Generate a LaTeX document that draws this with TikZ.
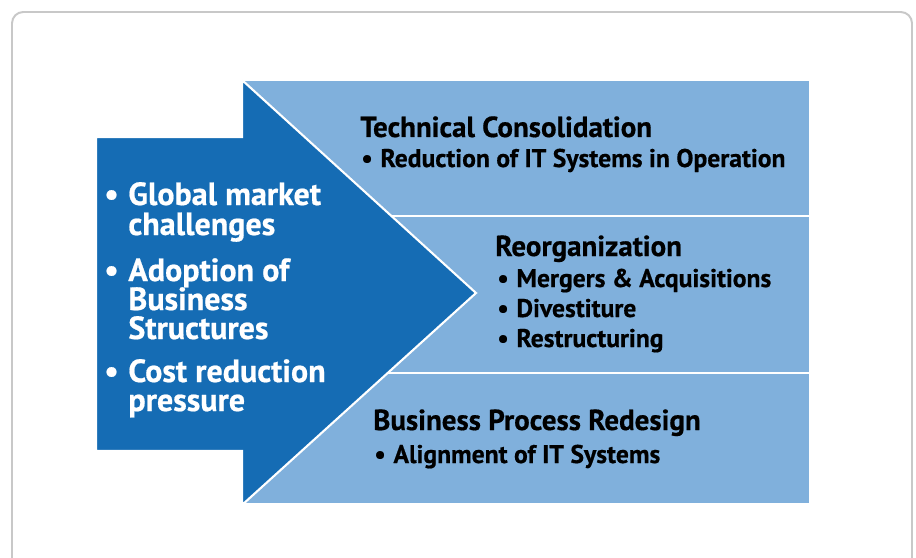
\documentclass[tikz,border=0pt]{standalone}
\usepackage{fontspec}
\setmainfont{PT Sans}
\newfontfamily\heavyfont{PT Sans Bold}[FakeBold=0.6]
\usetikzlibrary{positioning}
\definecolor{arrowblue}{RGB}{21,108,180}
\definecolor{panelblue}{RGB}{128,176,220}
\definecolor{framegray}{RGB}{200,200,200}
\tikzset{panel/.style={fill=panelblue, draw=white, line width=1.5pt},
  lefttext/.style={text=white, font=\heavyfont\fontsize{22.8}{24}\selectfont, anchor=base west, inner sep=0pt},
  headtext/.style={text=black, font=\heavyfont\fontsize{20.6}{22}\selectfont, anchor=base west, inner sep=0pt},
  itemtext/.style={text=black, font=\heavyfont\fontsize{18.2}{20}\selectfont, anchor=base west, inner sep=0pt}}
\newcommand{\bul}{\textbullet\hspace{0.3em}}
\newcommand{\nobul}{\hphantom{\textbullet\hspace{0.3em}}}

\begin{document}
\begin{tikzpicture}[x=0.025cm, y=-0.025cm]
		\useasboundingbox (0,0) rectangle (916,558);
		\clip (0,0) rectangle (916,558);
		\draw[framegray, line width=1.4pt, rounded corners=8pt] (12,600) -- (12,12) -- (912,12) -- (912,600);
		
		% three panels
		\draw[panel] (242,80) rectangle (810,216);
		\draw[panel] (242,216) rectangle (810,373);
		\draw[panel] (242,373) rectangle (810,504);
		
		% big arrow
		\draw[fill=arrowblue, draw=white, line width=1.5pt] (96,137) -- (242,137) -- (242,80) -- (476,293) -- (242,505) -- (242,451) -- (96,451) -- cycle;
		
		\node[lefttext] (g1) at (104,205) {\bul Global market};
		\node[lefttext] (g2) at (104,235) {\nobul challenges};
		\node[lefttext] (a1) at (104,281) {\bul Adoption of};
		\node[lefttext] (a2) at (104,310) {\nobul Business};
		\node[lefttext] (a3) at (104,339) {\nobul Structures};
		\node[lefttext] (c1) at (104,382) {\bul Cost reduction};
		\node[lefttext] (c2) at (104,411) {\nobul pressure};
		
		\node[headtext] (tc) at (360,137) {Technical Consolidation};
		\node[itemtext] (tc1) at (361,167) {\bul Reduction of IT Systems in Operation};
		\node[headtext] (ro) at (495,256) {Reorganization};
		\node[itemtext] (ro1) at (497,287) {\bul Mergers \& Acquisitions};
		\node[itemtext] (ro2) at (497,317) {\bul Divestiture};
		\node[itemtext] (ro3) at (497,347) {\bul Restructuring};
		\node[headtext] (bp) at (373,430) {Business Process Redesign};
		\node[itemtext] (bp1) at (374,463) {\bul Alignment of IT Systems};
	\end{tikzpicture}
\end{document}
